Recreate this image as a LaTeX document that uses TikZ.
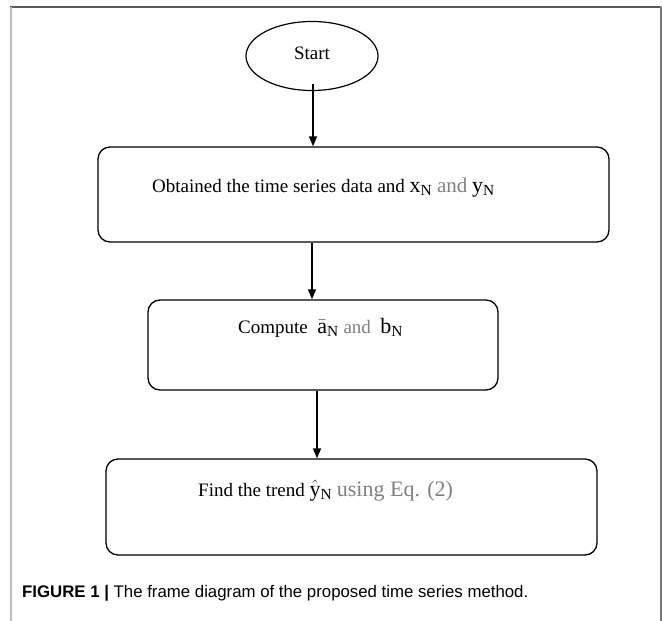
\documentclass[tikz,border=0pt]{standalone}
\usepackage{fontspec}
\setmainfont{Liberation Serif}
\newfontfamily\capfont{Liberation Sans}
\usetikzlibrary{arrows.meta,shapes.geometric,calc}
\definecolor{txtgray}{RGB}{128,128,128}
\newcommand{\mymath}[1]{{\fontsize{22}{24}\selectfont$#1$}}
\begin{document}
\begin{tikzpicture}[x=1pt,y=-1pt,
  flowbox/.style={draw=black,line width=1.3pt,rounded corners=12pt,inner sep=0pt},
  flowarrow/.style={line width=1.5pt,-{Triangle[width=8pt,length=10pt]}},
  boxtext/.style={font=\fontsize{19}{22}\selectfont,inner sep=0pt}]
\useasboundingbox (0,0) rectangle (662,621);
\fill[white] (0,0) rectangle (662,621);
% frame
\draw[draw={rgb,255:red,90;green,90;blue,90},line width=1.5pt] (10,7) -- (661,7);
\draw[draw={rgb,255:red,190;green,190;blue,190},line width=2pt] (11,7) -- (11,621);
\draw[draw={rgb,255:red,120;green,120;blue,120},line width=1.5pt] (661,7) -- (661,621);
% nodes
\node[draw=black,line width=1.2pt,ellipse,minimum width=132pt,minimum height=69pt,inner sep=0pt] (start) at (312,56) {};
\node[boxtext] (starttxt) at (312,53) {Start};
\node[flowbox,minimum width=511pt,minimum height=95pt] (b1) at (353.5,194.5) {};
\node[boxtext,anchor=base west] (t1) at (152,192) {Obtained the time series data and \mymath{\mathrm{x}_{\mathrm{N}}} \textcolor{txtgray}{\fontsize{21}{24}\selectfont and} \mymath{\mathrm{y}_{\mathrm{N}}}};
\node[flowbox,minimum width=350pt,minimum height=90pt] (b2) at (323,345) {};
\node[boxtext,anchor=base west] (t2) at (238,333) {Compute \ \mymath{\bar{\mathrm{a}}_{\mathrm{N}}} \textcolor{txtgray}{and} \ \mymath{\mathrm{b}_{\mathrm{N}}}};
\node[flowbox,minimum width=491pt,minimum height=96pt] (b3) at (351.5,507) {};
\node[boxtext,anchor=base west] (t3) at (198,496) {Find the trend \mymath{\hat{\mathrm{y}}_{\mathrm{N}}} \textcolor{txtgray}{\fontsize{22}{24}\selectfont using Eq. (2)}};
% connectors
\coordinate (s1) at ($(start.south)+(1,-7)$);
\coordinate (s2) at (312,0);
\coordinate (s3) at (317,0);
\draw[flowarrow] (s1) -- (s1 |- b1.north);
\draw[flowarrow] (s2 |- b1.south) -- (s2 |- b2.north);
\draw[flowarrow] (s3 |- b2.south) -- (s3 |- b3.north);
% caption
\node[anchor=base west,inner sep=0pt,font=\capfont\fontsize{16.8}{20}\selectfont] (cap) at (22,597) {\textbf{FIGURE 1 |} The frame diagram of the proposed time series method.};
\end{tikzpicture}
\end{document}
